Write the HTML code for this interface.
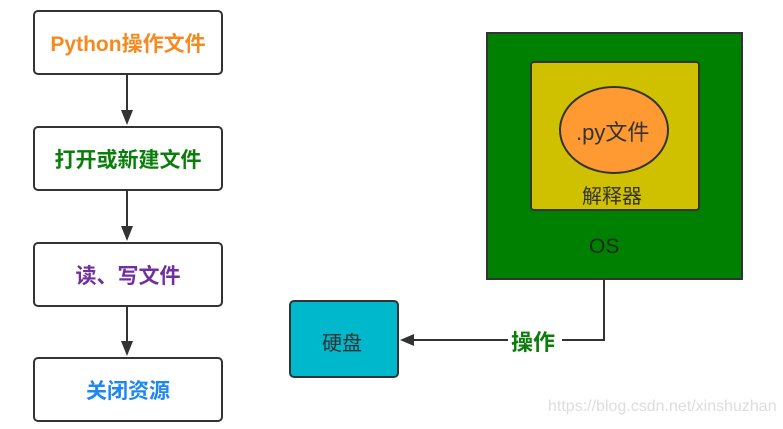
<!DOCTYPE html>
<html><head><meta charset="utf-8"><style>
body{margin:0;width:783px;height:429px;background:#fff;position:relative;overflow:hidden;font-family:"Liberation Sans","Noto Sans CJK SC",sans-serif}
.b{position:absolute;left:33px;width:186px;height:61px;border:2px solid #333;border-radius:5px;background:#fff;display:flex;align-items:center;justify-content:center;font-weight:bold;font-size:21px}
.t{position:absolute;white-space:nowrap}
</style></head><body>
<div class="b" style="top:10px;color:#f7891e">Python操作文件</div>
<div class="b" style="top:126px;color:#0a7d0a">打开或新建文件</div>
<div class="b" style="top:242px;color:#7030a0">读、写文件</div>
<div class="b" style="top:357px;color:#1e87f0">关闭资源</div>
<svg width="783" height="429" style="position:absolute;left:0;top:0">
<g stroke="#333" stroke-width="2" fill="#333">
<line x1="127" y1="75" x2="127" y2="112"/><polygon points="121,110 133,110 127,125" stroke="none"/>
<line x1="127" y1="191" x2="127" y2="228"/><polygon points="121,226 133,226 127,241" stroke="none"/>
<line x1="127" y1="307" x2="127" y2="343"/><polygon points="121,341 133,341 127,356" stroke="none"/>
</g>
<rect x="487" y="33" width="255" height="246" fill="#008000" stroke="#333" stroke-width="2"/>
<rect x="531" y="62" width="168" height="148" rx="3" fill="#d0c100" stroke="#333" stroke-width="2"/>
<ellipse cx="614" cy="130" rx="54" ry="43" fill="#ff9a33" stroke="#333" stroke-width="2"/>
<rect x="290" y="301" width="108" height="76" rx="4" fill="#00b8cc" stroke="#333" stroke-width="2"/>
<polyline points="604,279 604,340 410,340" fill="none" stroke="#333" stroke-width="2"/>
<polygon points="400,340 414,334 414,346" fill="#333"/>
<rect x="508" y="326" width="54" height="28" fill="#fff"/>
</svg>
<div class="t" style="left:576px;top:115px;font-size:22px;color:#333">.py文件</div>
<div class="t" style="left:582px;top:180px;font-size:20px;color:#333">解释器</div>
<div class="t" style="left:589px;top:235px;font-size:21px;color:#1a2a1a">OS</div>
<div class="t" style="left:322px;top:327px;font-size:20px;color:#333">硬盘</div>
<div class="t" style="left:511px;top:325px;font-size:22px;font-weight:bold;color:#0a7d0a">操作</div>
<div class="t" style="left:548px;top:398px;font-size:16px;color:#ddd">https://blog.csdn.net/xinshuzhan</div>
</body></html>
